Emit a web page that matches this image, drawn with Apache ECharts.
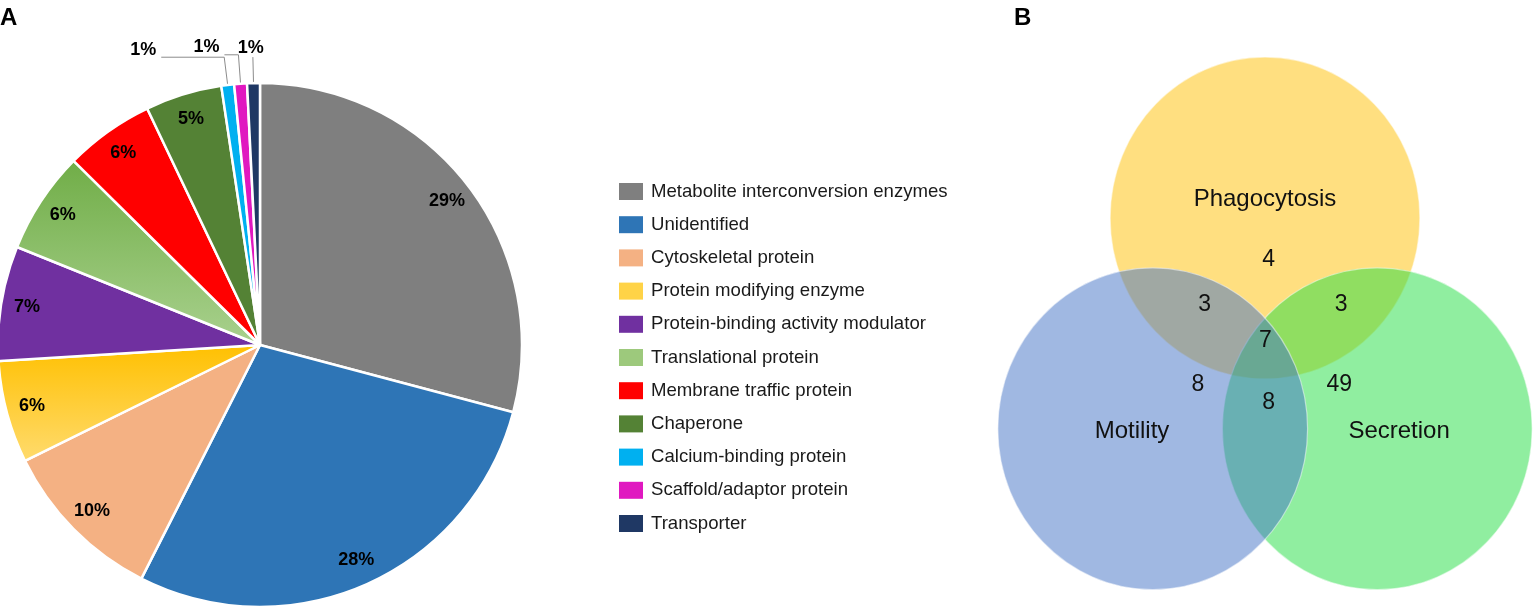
<!DOCTYPE html>
<html><head><meta charset="utf-8">
<script src="https://cdn.jsdelivr.net/npm/echarts@6/dist/echarts.min.js"></script>
<style>html,body{margin:0;padding:0;background:#fff}#c{width:1536px;height:613px}</style>
</head><body><div id="c"></div>
<script>
// ---------- data ----------
const categories = ['Metabolite interconversion enzymes','Unidentified','Cytoskeletal protein','Protein modifying enzyme','Protein-binding activity modulator','Translational protein','Membrane traffic protein','Chaperone','Calcium-binding protein','Scaffold/adaptor protein','Transporter'];
const counts = [37,36,13,8,9,8,7,6,1,1,1];

const vennSets = ['Phagocytosis','Secretion','Motility'];          // drawing order
const vennRegions = ['P only','P∩M','P∩S','P∩M∩S','M only','S only','M∩S'];
const vennCounts = [4,3,3,7,8,49,8];

// ---------- styles / layout (kept out of the data) ----------
const FONT = 'Liberation Sans';
const pieColors = [
  '#7f7f7f','#2e75b6','#f4b183',
  {type:'linear',x:0,y:0,x2:0,y2:1,colorStops:[{offset:0,color:'#ffc000'},{offset:1,color:'#ffdb6e'}]},
  '#7030a0',
  {type:'linear',x:0,y:0,x2:0,y2:1,colorStops:[{offset:0,color:'#70ad47'},{offset:1,color:'#a9d18e'}]},
  '#ff0000','#548235','#00b0f0','#e018c0','#1f3864'];
const legendColors = ['#7f7f7f','#2e75b6','#f4b183','#ffd347','#7030a0','#9dc97c','#ff0000','#548235','#00b0f0','#e018c0','#1f3864'];
const smallLabelLayout = { // for the three 1% slices (index 8,9,10)
  8:{len:28,len2:63,lh:15,dist:5},
  9:{len:29,len2:14,lh:15,dist:5},
  10:{len:26,len2:0,lh:19,dist:-11}
};
const PIE_CENTER = [260,345], PIE_R = 262, LABEL_RING_R0 = 204;

const vennColors = ['#ffbf01','#21dd41','#4171c5']; // drawn at 50% opacity
const vennCircleLayout = [[0,0.655],[0.725,-0.655],[-0.725,-0.655]]; // centres in radius units
const vennNameLayout = [[0.0,0.773],[0.866,-0.674],[-0.859,-0.674]];
const vennCountLayout = [[0.023,0.394],[-0.389,0.115],[0.492,0.115],[0.003,-0.109],[-0.434,-0.382],[0.479,-0.382],[0.023,-0.494]];

const chart = echarts.init(document.getElementById('c'));

const labelFmt = p => Math.round(p.percent) + '%';

const mainPieData = categories.map((name,i)=>{
  const item = {name, value:counts[i], itemStyle:{color:pieColors[i]}};
  const s = smallLabelLayout[i];
  if (s) {
    item.label = {show:true, position:'outside', lineHeight:s.lh, distanceToLabelLine:s.dist,
                  formatter: p => labelFmt(p) + '\n'};
    item.labelLine = {show:true, length:s.len, length2:s.len2, lineStyle:{color:'#8c8c8c',width:1}};
  }
  return item;
});
const ringData = categories.map((name,i)=>({
  name, value:counts[i],
  label:{show: !smallLabelLayout[i]}
}));

chart.setOption({
  animation:false,
  backgroundColor:'#fff',
  title:[
    {text:'A', left:0, top:6, padding:0, textStyle:{fontFamily:FONT,fontSize:24,fontWeight:'bold',color:'#000'}},
    {text:'B', left:1014, top:6, padding:0, textStyle:{fontFamily:FONT,fontSize:24,fontWeight:'bold',color:'#000'}}
  ],
  legend:{
    orient:'vertical', left:619, top:182, padding:0,
    itemWidth:24, itemHeight:17, itemGap:14.2, icon:'rect',
    selectedMode:false,
    textStyle:{fontFamily:FONT,fontSize:18.6,color:'#1a1a1a',padding:[0,0,0,3]},
    data:categories.map((n,i)=>({name:n, itemStyle:{color:legendColors[i], borderWidth:0}}))
  },
  grid:{left:994, top:33.7, width:544, height:579.6},
  xAxis:{type:'value', min:-1.75, max:1.75, show:false},
  yAxis:{type:'value', min:-1.8, max:1.8, show:false},
  series:[
    {
      type:'pie', name:'main', center:PIE_CENTER, radius:[0,PIE_R],
      startAngle:90, clockwise:true, avoidLabelOverlap:false,
      itemStyle:{borderColor:'#fff', borderWidth:2.5},
      label:{show:false, formatter:labelFmt, fontFamily:FONT, fontSize:18, fontWeight:'bold', color:'#000'},
      labelLine:{show:false},
      emphasis:{disabled:true},
      data:mainPieData
    },
    {
      type:'pie', name:'labels', center:PIE_CENTER, radius:[LABEL_RING_R0,PIE_R],
      startAngle:90, clockwise:true, avoidLabelOverlap:false, silent:true, legendHoverLink:false,
      itemStyle:{color:'rgba(0,0,0,0)', borderWidth:0},
      label:{show:true, position:'inside', formatter:labelFmt, fontFamily:FONT, fontSize:18, fontWeight:'bold', color:'#000'},
      labelLine:{show:false},
      emphasis:{disabled:true},
      data:ringData
    },
    {
      type:'custom', name:'venn', coordinateSystem:'cartesian2d', silent:true,
      data:vennCircleLayout.map(c=>[c[0],c[1],1]),
      renderItem:(params,api)=>{
        const c = api.coord([api.value(0),api.value(1)]);
        const s = api.size([api.value(2),api.value(2)]);
        return {type:'ellipse', shape:{cx:c[0],cy:c[1],rx:s[0],ry:s[1]},
          style:{fill:vennColors[params.dataIndex], stroke:'#fff', lineWidth:1.2, opacity:0.5}};
      }
    },
    {
      type:'custom', name:'vennNames', coordinateSystem:'cartesian2d', silent:true, z:5,
      data:vennNameLayout.map(c=>[c[0],c[1]]),
      renderItem:(params,api)=>{
        const c = api.coord([api.value(0),api.value(1)]);
        return {type:'text', x:c[0], y:c[1], style:{text:vennSets[params.dataIndex], fontFamily:FONT, fontSize:24, fill:'#111', align:'center', verticalAlign:'middle'}};
      }
    },
    {
      type:'custom', name:'vennCounts', coordinateSystem:'cartesian2d', silent:true, z:5,
      data:vennCountLayout.map((c,i)=>[c[0],c[1],vennCounts[i]]),
      renderItem:(params,api)=>{
        const c = api.coord([api.value(0),api.value(1)]);
        return {type:'text', x:c[0], y:c[1], style:{text:String(api.value(2)), fontFamily:FONT, fontSize:23, fill:'#111', align:'center', verticalAlign:'middle'}};
      }
    }
  ]
});
</script></body></html>
